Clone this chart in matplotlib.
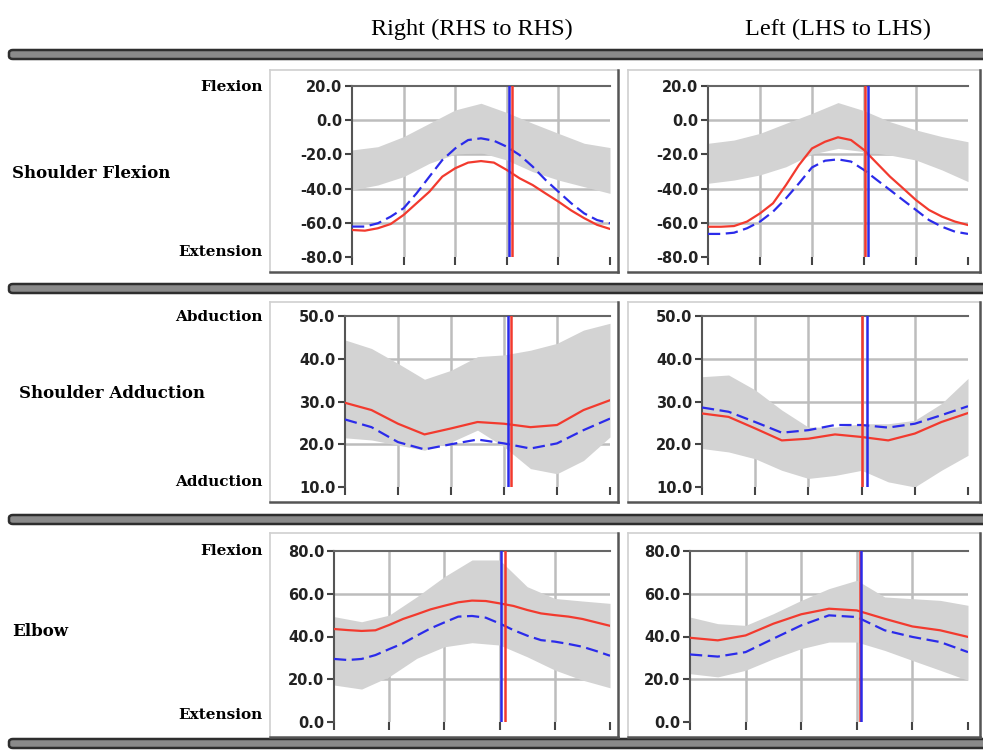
import numpy as np
import matplotlib
matplotlib.use("Agg")
import matplotlib.pyplot as plt
from matplotlib.patches import FancyBboxPatch
from matplotlib.lines import Line2D

# ---------------- data ----------------
x10 = [0, 10, 20, 30, 40, 50, 60, 70, 80, 90, 100]
x5 = [0, 5, 10, 15, 20, 25, 30, 35, 40, 45, 50, 55, 60, 65, 70, 75, 80, 85, 90, 95, 100]

col_titles = ["Right (RHS to RHS)", "Left (LHS to LHS)"]
row_titles = ["Shoulder Flexion", "Shoulder Adduction", "Elbow"]
upper_labels = ["Flexion", "Abduction", "Flexion"]
lower_labels = ["Extension", "Adduction", "Extension"]
y_ticks = [[-80, -60, -40, -20, 0, 20], [10, 20, 30, 40, 50], [0, 20, 40, 60, 80]]

# Shoulder flexion - right (lines every 5 %, band every 10 %)
sf_r_red = [-64.2, -64.6, -63.2, -60.7, -55.4, -48.6, -41.8, -33.0, -28.1, -24.8, -23.9,
            -24.8, -29.1, -34.0, -37.9, -42.8, -47.6, -52.8, -57.3, -61.2, -63.6]
sf_r_blue = [-62.2, -62.2, -60.3, -56.4, -51.5, -42.8, -33.0, -23.3, -16.5, -11.6, -10.6,
             -12.0, -15.5, -20.4, -27.1, -34.9, -41.8, -48.6, -54.5, -58.4, -60.3]
sf_r_hi = [-17.4, -15.5, -9.6, -1.8, 6.0, 9.9, 4.5, -1.8, -7.7, -13.5, -16.0]
sf_r_lo = [-40.8, -37.9, -33.0, -25.2, -19.8, -19.0, -23.3, -30.1, -35.0, -38.9, -42.8]
# Shoulder flexion - left
sf_l_red = [-62.3, -62.3, -61.9, -59.3, -54.5, -48.6, -37.9, -26.2, -16.5, -12.6, -10.0,
            -11.6, -17.4, -25.2, -33.0, -39.8, -46.7, -52.5, -56.4, -59.3, -61.3]
sf_l_blue = [-66.5, -66.5, -65.8, -63.2, -59.3, -53.5, -45.7, -36.9, -27.6, -23.7, -22.9,
             -24.2, -29.1, -35.0, -40.8, -46.7, -52.5, -58.4, -62.3, -65.2, -66.5]
sf_l_hi = [-13.5, -11.6, -7.7, -1.8, 4.0, 10.3, 5.6, -0.9, -5.7, -9.6, -12.6]
sf_l_lo = [-36.9, -35.0, -32.0, -27.2, -19.8, -16.5, -18.4, -20.4, -23.3, -29.1, -35.9]
# Shoulder adduction - right
sa_r_red = [29.7, 28.0, 24.8, 22.3, 23.7, 25.2, 24.8, 24.0, 24.5, 28.0, 30.3]
sa_r_blue = [25.8, 24.0, 20.5, 18.8, 20.0, 21.1, 20.2, 19.0, 20.2, 23.3, 26.0]
sa_r_hi = [44.4, 42.4, 38.9, 35.2, 37.3, 40.5, 40.9, 42.0, 43.6, 46.7, 48.3]
sa_r_lo = [21.5, 21.0, 19.8, 18.6, 20.5, 23.3, 19.4, 14.3, 13.1, 16.2, 21.7]
# Shoulder adduction - left
sa_l_red = [27.2, 26.4, 23.7, 20.9, 21.3, 22.3, 21.7, 20.9, 22.5, 25.2, 27.3]
sa_l_blue = [28.6, 27.6, 25.2, 22.7, 23.3, 24.5, 24.5, 23.9, 24.8, 26.8, 28.9]
sa_l_hi = [35.8, 36.2, 32.7, 28.0, 24.0, 24.0, 24.8, 24.8, 25.6, 29.5, 35.4]
sa_l_lo = [19.0, 18.2, 16.6, 13.9, 12.0, 12.7, 13.9, 11.2, 10.0, 13.9, 17.4]
# Elbow - right (lines every 5 %)
el_r_red = [43.5, 43.0, 42.6, 42.9, 45.4, 48.2, 50.4, 52.7, 54.4, 56.0, 56.8,
            56.6, 55.5, 54.3, 52.4, 50.8, 50.0, 49.3, 48.2, 46.6, 45.0]
el_r_blue = [29.5, 29.0, 29.5, 31.3, 34.1, 36.8, 40.4, 43.8, 46.6, 49.3, 49.6,
             48.8, 46.1, 43.0, 40.4, 38.3, 37.6, 36.5, 35.2, 33.2, 31.0]
el_r_hi = [49.3, 46.9, 50.0, 58.6, 68.0, 75.8, 75.8, 63.3, 57.8, 56.6, 55.5]
el_r_lo = [17.3, 15.4, 21.2, 29.8, 35.2, 37.1, 36.0, 30.5, 24.3, 19.6, 16.0]
# Elbow - left
el_l_red = [39.4, 38.2, 40.5, 46.0, 50.4, 53.0, 52.2, 48.3, 44.7, 42.9, 39.8]
el_l_blue = [31.6, 30.6, 32.7, 39.0, 45.2, 49.9, 49.1, 42.9, 39.8, 37.4, 32.7]
el_l_hi = [49.1, 46.0, 45.2, 50.7, 56.9, 62.4, 66.3, 58.5, 57.7, 56.9, 54.6]
el_l_lo = [22.6, 21.1, 24.2, 29.6, 34.3, 37.4, 37.4, 33.5, 28.8, 24.2, 19.5]

# event markers (% of cycle): (red, blue)
events = [[(62.0, 61.0), (60.4, 61.5)],
          [(62.6, 61.5), (60.2, 62.0)],
          [(62.0, 60.5), (61.0, 61.5)]]

# (x for lines, red, blue, x for band, band high, band low)
series = [[(x5, sf_r_red, sf_r_blue, x10, sf_r_hi, sf_r_lo), (x5, sf_l_red, sf_l_blue, x10, sf_l_hi, sf_l_lo)],
          [(x10, sa_r_red, sa_r_blue, x10, sa_r_hi, sa_r_lo), (x10, sa_l_red, sa_l_blue, x10, sa_l_hi, sa_l_lo)],
          [(x5, el_r_red, el_r_blue, x10, el_r_hi, el_r_lo), (x10, el_l_red, el_l_blue, x10, el_l_hi, el_l_lo)]]

# ---------------- layout ----------------
W, H = 983, 750
fig = plt.figure(figsize=(W / 100, H / 100), dpi=100)
fig.patch.set_facecolor("white")

def fx(x):
    return x / W

def fy(y):
    return 1 - y / H

RED = "#f23a2e"
BLUE = "#2b2bea"
BAND = "#d3d3d3"
GRID = "#bdbdbd"
SERIF = ["Liberation Serif", "DejaVu Serif"]
SERIF2 = ["DejaVu Serif"]

ax_boxes = [[(352, 610, 86, 257), (708, 968, 86, 257)],
            [(345, 610, 316, 487), (702, 968, 316, 487)],
            [(334, 610, 551, 722), (690, 968, 551, 722)]]
panel_boxes = [[(270, 618, 70, 272), (628, 980, 70, 272)],
               [(270, 618, 302, 502), (628, 980, 302, 502)],
               [(270, 618, 533, 737), (628, 980, 533, 737)]]
bar_tops = [50, 284, 515, 739]
row_label_pos = [(12, 173), (19, 393), (12, 632)]
upper_lab_y = [87, 317, 551]
lower_lab_y = [252, 482, 715]

for yt in bar_tops:
    p = FancyBboxPatch((fx(9), fy(yt + 9)), fx(983 - 9) + 0.01, 9 / H,
                       boxstyle="round,pad=0,rounding_size=0.004",
                       transform=fig.transFigure, facecolor="#8a8a8a",
                       edgecolor="#2e2e2e", linewidth=1.8, clip_on=False)
    fig.patches.append(p)

for row in panel_boxes:
    for (l, r, t, b) in row:
        fig.lines.append(Line2D([fx(l), fx(r)], [fy(t), fy(t)], transform=fig.transFigure, color="#d0d0d0", lw=1.2))
        fig.lines.append(Line2D([fx(l), fx(l)], [fy(t), fy(b)], transform=fig.transFigure, color="#d0d0d0", lw=1.2))
        fig.lines.append(Line2D([fx(l), fx(r)], [fy(b), fy(b)], transform=fig.transFigure, color="#555555", lw=1.8))
        fig.lines.append(Line2D([fx(r), fx(r)], [fy(t), fy(b)], transform=fig.transFigure, color="#555555", lw=1.8))

for txt, cx in zip(col_titles, [472, 838]):
    fig.text(fx(cx), fy(29), txt, ha="center", va="center", fontsize=17.5, family=SERIF)

for i in range(3):
    lx, ly = row_label_pos[i]
    fig.text(fx(lx), fy(ly), row_titles[i], ha="left", va="center", fontsize=12,
             family=SERIF2, fontweight="bold")
    fig.text(fx(263), fy(upper_lab_y[i]), upper_labels[i], ha="right", va="center",
             fontsize=11, family=SERIF2, fontweight="bold")
    fig.text(fx(263), fy(lower_lab_y[i]), lower_labels[i], ha="right", va="center",
             fontsize=11, family=SERIF2, fontweight="bold")

for i in range(3):
    for j in range(2):
        l, r, t, b = ax_boxes[i][j]
        ax = fig.add_axes([fx(l), fy(b), (r - l) / W, (b - t) / H])
        xl, red, blue, xb, hi, lo = series[i][j]
        yt = y_ticks[i]
        ax.set_xlim(0, 100)
        ax.set_ylim(yt[0], yt[-1])
        ax.set_yticks(yt)
        ax.set_yticklabels([f"{v:.1f}" for v in yt])
        ax.set_xticks([0, 20, 40, 60, 80, 100])
        ax.set_xticklabels([])
        for v in [20, 40, 60, 80]:
            ax.axvline(v, color=GRID, lw=1.8, zorder=0)
        for v in yt[1:-1]:
            ax.axhline(v, color=GRID, lw=1.8, zorder=0)
        ax.fill_between(xb, lo, hi, color=BAND, lw=0, zorder=1)
        ax.plot(xl, red, color=RED, lw=1.6, zorder=3, solid_joinstyle="round")
        ax.plot(xl, blue, color=BLUE, lw=1.6, dashes=(5.5, 2.5), zorder=3)
        er, eb = events[i][j]
        ax.axvline(er, color=RED, lw=1.8, zorder=4)
        ax.axvline(eb, color=BLUE, lw=1.8, zorder=4)
        for s in ["right", "bottom"]:
            ax.spines[s].set_visible(False)
        ax.spines["left"].set_color("#555555")
        ax.spines["left"].set_linewidth(1.5)
        ax.spines["top"].set_color("#666666")
        ax.spines["top"].set_linewidth(1.5)
        ax.tick_params(axis="y", direction="out", length=5, width=1.5, color="#444444",
                       labelsize=10.5, labelcolor="#222222", pad=2)
        ax.tick_params(axis="x", direction="out", length=6, width=1.5, color="#444444")
        for lab in ax.get_yticklabels():
            lab.set_fontweight("bold")
            lab.set_family(["DejaVu Sans"])
        ax.set_facecolor("white")

fig.savefig("out.png", dpi=100, facecolor="white")
